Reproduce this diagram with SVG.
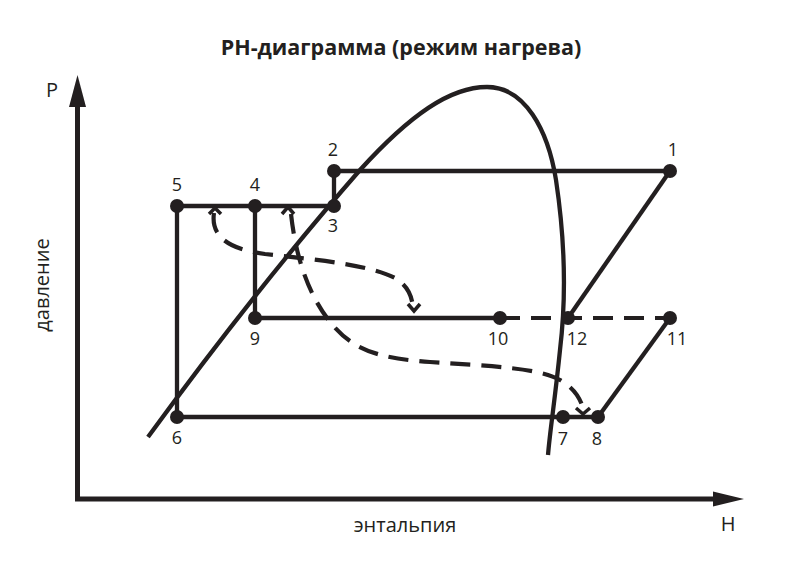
<svg xmlns="http://www.w3.org/2000/svg" width="800" height="574" viewBox="0 0 800 574">
<style>
.ln{stroke:#231f20;stroke-width:4.3;fill:none;stroke-linecap:butt}
.dash{stroke:#231f20;stroke-width:4.2;fill:none;stroke-dasharray:20 11}
.chev{stroke:#231f20;stroke-width:3.5;fill:none}
.node{fill:#231f20}
.lbl{font-family:"Open Sans","Noto Sans",sans-serif;font-size:18px;fill:#231f20;text-anchor:middle}
.ax{font-family:"Open Sans","Noto Sans",sans-serif;font-size:20px;fill:#231f20;text-anchor:middle}
</style>
<rect width="800" height="574" fill="#fff"/>
<text x="401" y="55" font-family="'Open Sans','Noto Sans',sans-serif" font-size="21.5" font-weight="bold" fill="#231f20" text-anchor="middle">PH-диаграмма (режим нагрева)</text>
<g id="axes">
<line x1="77.5" y1="500" x2="77.5" y2="105" stroke="#231f20" stroke-width="5"/>
<polygon points="77.5,75 69,107 86,107" fill="#231f20"/>
<line x1="75" y1="499" x2="715" y2="499" stroke="#231f20" stroke-width="5"/>
<polygon points="744,499 713,491.5 713,506.5" fill="#231f20"/>
<text class="ax" x="52" y="97" font-size="25">P</text>
<text class="ax" x="728" y="531" font-size="25">H</text>
<text class="ax" x="405" y="532">энтальпия</text>
<text class="ax" transform="translate(42,285) rotate(-90)" y="7">давление</text>
</g>
<g id="dome">
<path class="ln" d="M148,437 C210,352 290,250 360,170 C410,115 450,87 487,87 C525,87 548,130 556,180 C565,240 566,300 560,350 C555,400 550,430 548,455"/>
</g>
<g id="connectors">
<line class="ln" x1="334" y1="171" x2="670" y2="171"/>
<line class="ln" x1="334" y1="171" x2="334" y2="206"/>
<line class="ln" x1="177" y1="206" x2="334" y2="206"/>
<line class="ln" x1="177" y1="206" x2="177" y2="417"/>
<line class="ln" x1="255" y1="206" x2="255" y2="318"/>
<line class="ln" x1="255" y1="318" x2="500" y2="318" stroke-width="5"/>
<line class="dash" x1="500" y1="318" x2="670" y2="318" stroke-width="4.5"/>
<line class="ln" x1="670" y1="171" x2="568" y2="318"/>
<line class="ln" x1="177" y1="417" x2="598" y2="417" stroke-width="3.2"/>
<line class="ln" x1="598" y1="417" x2="670" y2="318"/>
<path class="dash" d="M214,213 C210,240 235,250 265,254 C320,260 370,265 395,278 C408,286 412,296 413,308"/>
<path class="chev" d="M209,214 L215,208 L221,214"/>
<path class="chev" d="M408,304 L414,311 L420,304"/>
<path class="dash" d="M291,214 C295,250 305,290 330,322 C350,346 370,358 430,362 C490,366 540,368 560,380 C574,388 580,398 583,408"/>
<path class="chev" d="M282,214 L288,207 L294,214"/>
<path class="chev" d="M576,408 L583,414 L590,408"/>
</g>
<g id="n1"><circle class="node" cx="670" cy="171" r="7"/><text class="lbl" x="673" y="156">1</text></g>
<g id="n2"><circle class="node" cx="334" cy="171" r="7"/><text class="lbl" x="333" y="156">2</text></g>
<g id="n3"><circle class="node" cx="334" cy="206" r="7"/><text class="lbl" x="333" y="232">3</text></g>
<g id="n4"><circle class="node" cx="255" cy="206" r="7"/><text class="lbl" x="255" y="191">4</text></g>
<g id="n5"><circle class="node" cx="177" cy="206" r="7"/><text class="lbl" x="177" y="191">5</text></g>
<g id="n6"><circle class="node" cx="177" cy="417" r="7"/><text class="lbl" x="177" y="444">6</text></g>
<g id="n7"><circle class="node" cx="563" cy="417" r="7"/><text class="lbl" x="563" y="445">7</text></g>
<g id="n8"><circle class="node" cx="598" cy="417" r="7"/><text class="lbl" x="597" y="445">8</text></g>
<g id="n9"><circle class="node" cx="255" cy="318" r="7"/><text class="lbl" x="255" y="345">9</text></g>
<g id="n10"><circle class="node" cx="500" cy="318" r="7"/><text class="lbl" x="498" y="345">10</text></g>
<g id="n11"><circle class="node" cx="670" cy="318" r="7"/><text class="lbl" x="677" y="345">11</text></g>
<g id="n12"><circle class="node" cx="568" cy="318" r="7"/><text class="lbl" x="577" y="345">12</text></g>
</svg>
